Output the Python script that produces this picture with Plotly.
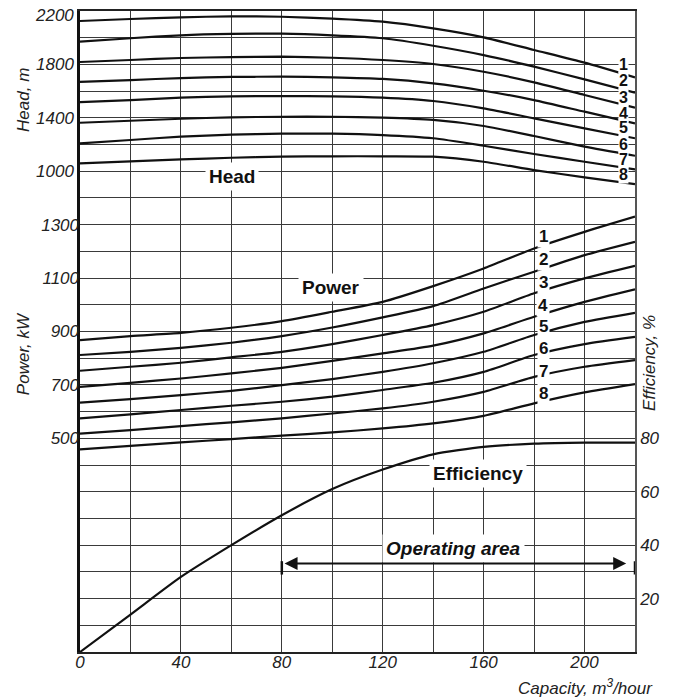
import plotly.graph_objects as go

# ---------------- data ----------------
capacity = [0, 20, 40, 60, 80, 100, 120, 140, 160, 180, 200, 220]

head_1 = [2125, 2140, 2153, 2160, 2157, 2143, 2120, 2070, 2003, 1908, 1813, 1703]
head_2 = [1970, 1996, 2018, 2028, 2030, 2018, 1996, 1940, 1870, 1783, 1688, 1588]
head_3 = [1818, 1833, 1848, 1855, 1858, 1850, 1833, 1803, 1745, 1666, 1571, 1476]
head_4 = [1670, 1683, 1698, 1706, 1708, 1703, 1691, 1658, 1603, 1533, 1446, 1359]
head_5 = [1518, 1533, 1551, 1561, 1563, 1561, 1551, 1526, 1471, 1396, 1321, 1247]
head_6 = [1363, 1378, 1393, 1404, 1408, 1408, 1401, 1384, 1339, 1264, 1184, 1116]
head_7 = [1209, 1234, 1259, 1274, 1281, 1281, 1271, 1247, 1191, 1129, 1071, 1014]
head_8 = [1059, 1074, 1089, 1101, 1109, 1112, 1112, 1109, 1071, 1009, 954, 904]

power_1 = [868, 883, 895, 914, 939, 974, 1011, 1070, 1136, 1211, 1273, 1330]
power_2 = [812, 824, 839, 858, 883, 915, 953, 995, 1061, 1124, 1186, 1236]
power_3 = [753, 768, 783, 803, 824, 853, 887, 924, 974, 1043, 1099, 1146]
power_4 = [693, 708, 724, 743, 764, 790, 818, 847, 893, 955, 1011, 1058]
power_5 = [634, 647, 662, 678, 699, 722, 749, 781, 824, 887, 936, 970]
power_6 = [575, 590, 606, 622, 637, 656, 681, 708, 749, 812, 853, 880]
power_7 = [518, 531, 546, 560, 575, 593, 612, 637, 674, 730, 768, 793]
power_8 = [459, 472, 485, 497, 510, 522, 537, 556, 584, 631, 672, 703]

efficiency = [0, 14.0, 28.1, 40.0, 51.2, 61.0, 68.3, 74.0, 76.8, 78.0, 78.4, 78.4]

curve_labels = ["1", "2", "3", "4", "5", "6", "7", "8"]
operating_area = [80, 220]

x_ticks = [0, 40, 80, 120, 160, 200]
head_ticks = [1000, 1400, 1800, 2200]
power_ticks = [500, 700, 900, 1100, 1300]
eff_ticks = [20, 40, 60, 80]

heads = [head_1, head_2, head_3, head_4, head_5, head_6, head_7, head_8]
powers = [power_1, power_2, power_3, power_4, power_5, power_6, power_7, power_8]

# ---------------- figure ----------------
FONT = "Liberation Sans, Arial, Helvetica, sans-serif"
LINE = dict(color="#111111", width=2.2, shape="spline", smoothing=0.6)

fig = go.Figure()

fig.add_trace(go.Scatter(x=capacity, y=efficiency, mode="lines", line=LINE,
                         yaxis="y", hoverinfo="skip"))
for h in heads:
    fig.add_trace(go.Scatter(x=capacity, y=h, mode="lines", line=LINE,
                             yaxis="y2", hoverinfo="skip"))
for p in powers:
    fig.add_trace(go.Scatter(x=capacity, y=p, mode="lines", line=LINE,
                             yaxis="y3", hoverinfo="skip"))

tickfont = dict(family=FONT, size=17, color="#222222", style="italic")

grid_x = list(range(0, 221, 20))
grid_y = list(range(0, 241, 10))
top_head = max(head_ticks)

# the page body adds an 8px offset; figure sized to fit the 673x697 window
fig.update_layout(
    width=665, height=689,
    margin=dict(l=72, r=38, t=3, b=45, autoexpand=False),
    paper_bgcolor="white", plot_bgcolor="white",
    showlegend=False,
    font=dict(family=FONT, color="#222222"),
    xaxis=dict(
        range=[0, 220], tickvals=grid_x,
        ticktext=[str(v) if v in x_ticks else "" for v in grid_x],
        showgrid=True, gridcolor="#3a3a3a", gridwidth=1,
        showline=True, linecolor="#222222", linewidth=2, mirror=True,
        zeroline=False, ticks="", tickfont=tickfont, automargin=False,
        ticklabelstandoff=-6, ticklabeloverflow="allow",
    ),
    yaxis=dict(
        range=[0, 240], side="right", tickvals=grid_y,
        ticktext=[str(v) if v in eff_ticks else "" for v in grid_y],
        showgrid=True, gridcolor="#3a3a3a", gridwidth=1,
        showline=True, linecolor="#555555", linewidth=1.5,
        zeroline=False, ticks="", tickfont=tickfont, automargin=False,
        ticklabeloverflow="allow",
    ),
    yaxis2=dict(
        range=[-2600, 2200], overlaying="y", side="left", anchor="x",
        tickvals=head_ticks,
        ticktext=[str(v) if v != top_head else "" for v in head_ticks],
        showgrid=False, zeroline=False,
        showline=True, linecolor="#111111", linewidth=2.5,
        ticks="", tickfont=tickfont, automargin=False,
        ticklabeloverflow="allow",
    ),
    yaxis3=dict(
        range=[-300, 2100], overlaying="y", side="left", anchor="x",
        tickvals=power_ticks, showgrid=False, zeroline=False,
        showline=False, ticks="", tickfont=tickfont, automargin=False,
        ticklabeloverflow="allow",
    ),
)

bold = dict(family=FONT, size=19, color="#111111", weight="bold")
num_font = dict(family=FONT, size=17, color="#111111", weight="bold")
head_num_font = dict(family=FONT, size=16, color="#111111", weight="bold")

ann = []
# top head tick label, nudged down a little so it is not cut by the page edge
ann.append(dict(x=0, y=top_head, xref="paper", yref="y2", text=str(top_head),
                xanchor="right", yanchor="middle", xshift=-4, yshift=-4,
                showarrow=False, font=tickfont))

ann.append(dict(x=60.4, y=957, xref="x", yref="y2", text="Head", showarrow=False,
                font=bold, bgcolor="white", borderpad=3))
ann.append(dict(x=99.5, y=1066, xref="x", yref="y3", text="Power", showarrow=False,
                font=bold, bgcolor="white", borderpad=3))
ann.append(dict(x=157.8, y=67, xref="x", yref="y", text="Efficiency", showarrow=False,
                font=bold, bgcolor="white", borderpad=3))
ann.append(dict(x=147.9, y=38.8, xref="x", yref="y", text="Operating area", showarrow=False,
                font=dict(family=FONT, size=19, color="#111111", weight="bold", style="italic"),
                bgcolor="white", borderpad=3))

head_label_y = [1796, 1676, 1556, 1436, 1324, 1204, 1091, 979]
power_label_y = [1254, 1171, 1085, 999, 917, 838, 752, 669]
for lab, hy, py in zip(curve_labels, head_label_y, power_label_y):
    ann.append(dict(x=215.3, y=hy, xref="x", yref="y2", text=lab, showarrow=False,
                    font=head_num_font, bgcolor="white", borderpad=0))
    ann.append(dict(x=183.7, y=py, xref="x", yref="y3", text=lab, showarrow=False,
                    font=num_font, bgcolor="white", borderpad=1))

ann.append(dict(x=operating_area[1] - 3.5, y=33.1, ax=operating_area[0] + 0.5, ay=33.1,
                xref="x", yref="y", axref="x", ayref="y", text="", showarrow=True,
                arrowhead=2, arrowside="end+start", arrowsize=1.3, arrowwidth=2,
                arrowcolor="#111111", standoff=0, startstandoff=0))

title_font = dict(family=FONT, size=17, color="#222222", style="italic")
ann.append(dict(x=-0.103, y=0.861, xref="paper", yref="paper", text="Head, m",
                xanchor="center", yanchor="middle",
                textangle=-90, showarrow=False, font=title_font))
ann.append(dict(x=-0.103, y=0.466, xref="paper", yref="paper", text="Power, kW",
                xanchor="center", yanchor="middle",
                textangle=-90, showarrow=False, font=title_font))
ann.append(dict(x=1.027, y=0.451, xref="paper", yref="paper", text="Efficiency, %",
                xanchor="center", yanchor="middle",
                textangle=-90, showarrow=False, font=title_font))
ann.append(dict(x=1.036, y=-0.055, xref="paper", yref="paper", xanchor="right",
                yanchor="middle",
                text="Capacity, m<sup>3</sup>/hour", showarrow=False, font=title_font))

fig.update_layout(annotations=ann)

for xv in operating_area:
    fig.add_shape(type="line", x0=xv, x1=xv, y0=29, y1=34, xref="x", yref="y",
                  line=dict(color="#111111", width=2.5))

fig.write_html("out.html")
